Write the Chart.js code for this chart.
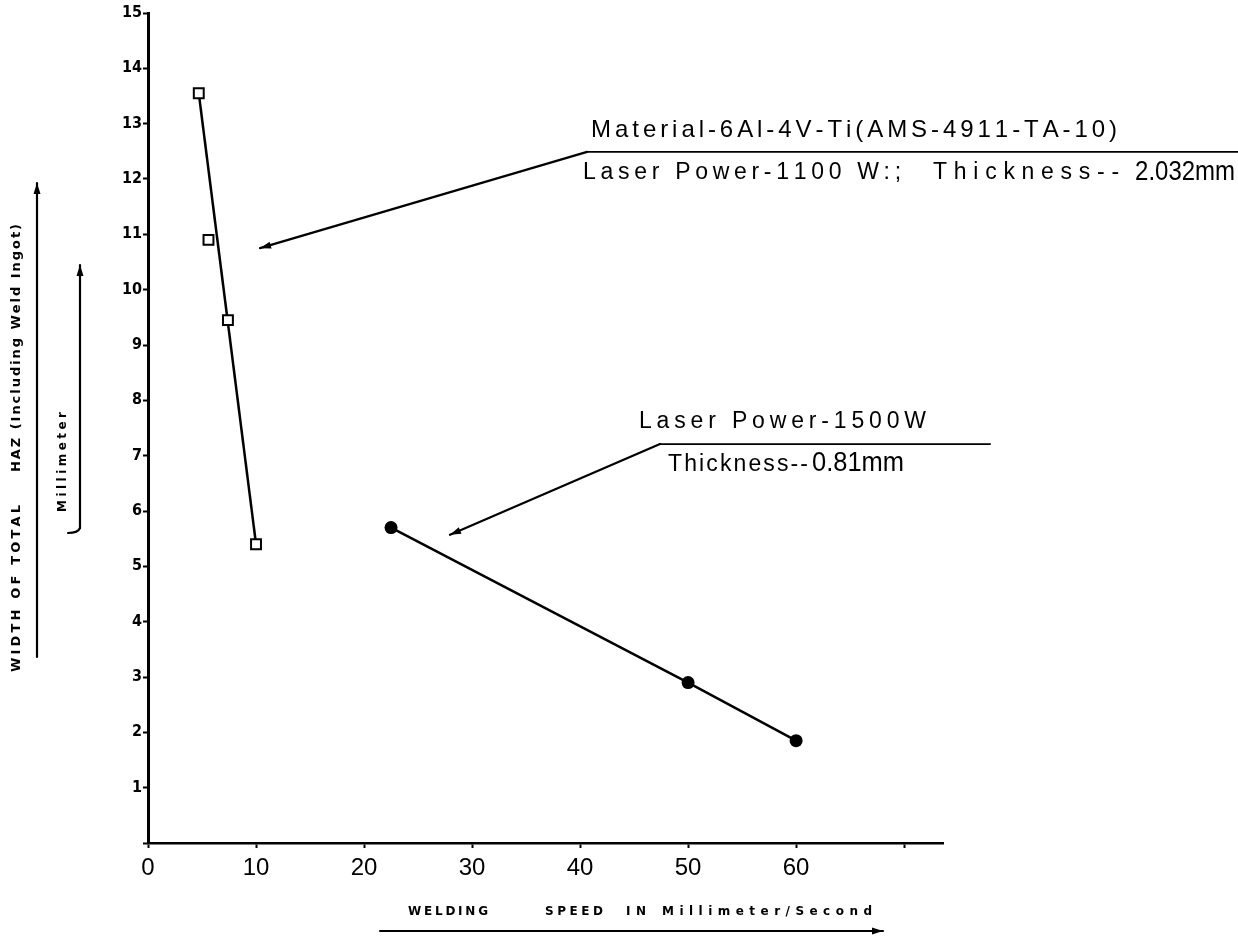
<!DOCTYPE html>
<html>
<head>
<meta charset="utf-8">
<title>Welding speed vs. width of total HAZ</title>
<script src="https://cdn.jsdelivr.net/npm/chart.js@4.4.1/dist/chart.umd.min.js"></script>
<style>
  html, body { margin: 0; padding: 0; background: #fff; }
  #wrap { width: 1238px; height: 936px; position: relative; }
</style>
</head>
<body>
<div id="wrap"><canvas id="chart" width="1238" height="936"></canvas></div>
<script>
// Welding speed (mm/s) against width of total HAZ including weld ingot (mm)
// 6Al-4V-Ti, laser power 1100 W, thickness 2.032 mm
const speed1100W = [4.7, 5.6, 7.4, 10.0];
const width1100W = [13.55, 10.9, 9.45, 5.4];
// laser power 1500 W, thickness 0.81 mm
const speed1500W = [22.5, 50.0, 60.0];
const width1500W = [5.7, 2.9, 1.85];

const xTickLabels = ['0', '10', '20', '30', '40', '50', '60', ''];
const yTickLabels = ['', '1', '2', '3', '4', '5', '6', '7', '8', '9', '10', '11', '12', '13', '14', '15'];

const toPoints = (xs, ys) => xs.map((v, i) => ({ x: v, y: ys[i] }));
const points1100 = toPoints(speed1100W, width1100W);
const points1500 = toPoints(speed1500W, width1500W);
// straight line drawn through the first and last 1100 W measurements
const trend1100 = [points1100[0], points1100[points1100.length - 1]];

Chart.defaults.color = '#000';
Chart.defaults.font.family = '"Liberation Sans", Arial, sans-serif';

// draw a string starting at x so that it spans `width`: slack goes between glyphs,
// and an over-long string is squeezed horizontally
function fitText(ctx, str, x, y, width) {
  const chars = [...str];
  const widths = chars.map(c => ctx.measureText(c).width);
  const natural = widths.reduce((a, b) => a + b, 0);
  ctx.save();
  ctx.translate(x, y);
  let gap = 0;
  if (natural > width) {
    ctx.scale(width / natural, 1);
  } else if (chars.length > 1) {
    gap = (width - natural) / (chars.length - 1);
  }
  let cx = 0;
  chars.forEach((c, i) => { ctx.fillText(c, cx, 0); cx += widths[i] + gap; });
  ctx.restore();
}

function arrowLine(ctx, x1, y1, x2, y2, lw) {
  ctx.lineWidth = lw;
  ctx.beginPath(); ctx.moveTo(x1, y1); ctx.lineTo(x2, y2); ctx.stroke();
  const a = Math.atan2(y2 - y1, x2 - x1), head = 11, half = 3.5;
  const bx = x2 - head * Math.cos(a), by = y2 - head * Math.sin(a);
  ctx.beginPath();
  ctx.moveTo(x2, y2);
  ctx.lineTo(bx + half * Math.sin(a), by - half * Math.cos(a));
  ctx.lineTo(bx - half * Math.sin(a), by + half * Math.cos(a));
  ctx.closePath(); ctx.fill();
}

const annotations = {
  id: 'annotations',
  afterDraw(chart) {
    const { ctx, scales: { x, y } } = chart;
    const X = v => x.getPixelForValue(v), Y = v => y.getPixelForValue(v);
    ctx.save();
    ctx.fillStyle = '#000';
    ctx.strokeStyle = '#000';
    ctx.lineCap = 'round';
    ctx.textBaseline = 'middle';

    // --- callout for the 1100 W series ---
    const ax = X(40.65), ay = Y(12.49);
    arrowLine(ctx, ax, ay, X(10.37), Y(10.75), 2.2);
    ctx.lineWidth = 1.8;
    ctx.beginPath(); ctx.moveTo(ax, ay); ctx.lineTo(chart.width, ay); ctx.stroke();
    ctx.font = '24px "Liberation Sans"';
    fitText(ctx, 'Material-6Al-4V-Ti(AMS-4911-TA-10)', ax + 4, ay - 22, 526);
    ctx.font = '23px "Liberation Sans"';
    fitText(ctx, 'Laser Power-1100 W:;', ax - 4, ay + 21, 318);
    fitText(ctx, 'Thickness--', ax + 346, ay + 21, 186);
    ctx.font = '28px "Liberation Sans"';
    fitText(ctx, '2.032mm', ax + 548, ay + 20, 100);

    // --- callout for the 1500 W series ---
    const bx = X(47.4), by = Y(7.21);
    arrowLine(ctx, bx, by, X(27.96), Y(5.57), 2.2);
    ctx.lineWidth = 1.8;
    ctx.beginPath(); ctx.moveTo(bx, by); ctx.lineTo(X(77.96), by); ctx.stroke();
    ctx.font = '23px "Liberation Sans"';
    fitText(ctx, 'Laser Power-1500W', bx - 21, by - 22, 287);
    fitText(ctx, 'Thickness--', bx + 8, by + 21, 140);
    ctx.font = '27px "Liberation Sans"';
    fitText(ctx, '0.81mm', bx + 152, by + 20, 92);

    // --- x-axis title with arrow underneath ---
    ctx.font = 'bold 12px "DejaVu Sans"';
    fitText(ctx, 'WELDING', 408, 912, 80);
    fitText(ctx, 'SPEED', 545, 912, 58);
    fitText(ctx, 'IN', 626, 912, 20);
    fitText(ctx, 'Millimeter/Second', 662, 912, 210);
    arrowLine(ctx, 380, 931, 883, 931, 2.2);

    // --- y-axis title with arrows beside it ---
    ctx.save();
    ctx.rotate(-Math.PI / 2);
    ctx.font = 'bold 13px "DejaVu Sans"';
    fitText(ctx, 'WIDTH OF TOTAL', -672, 17, 167);
    fitText(ctx, 'HAZ (Including Weld Ingot)', -472, 17, 248);
    ctx.font = 'bold 12px "DejaVu Sans"';
    fitText(ctx, 'Millimeter', -512, 63, 100);
    ctx.restore();
    arrowLine(ctx, 37, 657, 37, 183, 2.2);
    arrowLine(ctx, 80, 528, 80, 265, 2.2);
    ctx.lineWidth = 2.2;
    ctx.beginPath(); ctx.moveTo(80, 528); ctx.quadraticCurveTo(78, 533, 68, 533); ctx.stroke();

    ctx.restore();
  }
};

new Chart(document.getElementById('chart'), {
  type: 'scatter',
  data: {
    datasets: [
      {
        label: '1100 W',
        data: points1100,
        showLine: false,
        pointStyle: 'rect',
        pointRadius: 7,
        pointBorderWidth: 2,
        borderColor: '#000',
        backgroundColor: '#fff'
      },
      {
        label: '1100 W line',
        data: trend1100,
        showLine: true,
        pointRadius: 0,
        borderColor: '#000',
        borderWidth: 2.5
      },
      {
        label: '1500 W',
        data: points1500,
        showLine: true,
        pointStyle: 'circle',
        pointRadius: 6.5,
        pointBorderWidth: 0,
        borderColor: '#000',
        backgroundColor: '#000',
        borderWidth: 2.5
      }
    ]
  },
  options: {
    responsive: false,
    animation: false,
    devicePixelRatio: 1,
    layout: { padding: { left: 0, top: 13, right: 295, bottom: 0 } },
    plugins: { legend: { display: false }, tooltip: { enabled: false } },
    scales: {
      x: {
        type: 'linear',
        min: 0,
        max: 73.6,
        afterFit: s => { s.height = 93; },
        ticks: {
          stepSize: 10,
          includeBounds: false,
          padding: 6,
          font: { size: 24, family: '"Liberation Sans", Arial, sans-serif' },
          callback: (v, i) => xTickLabels[i] ?? ''
        },
        grid: { drawOnChartArea: false, drawTicks: true, tickLength: 5, tickWidth: 2, tickColor: '#000' },
        border: { display: true, color: '#000', width: 2.5 }
      },
      y: {
        type: 'linear',
        min: 0,
        max: 15,
        afterFit: s => { s.width = 148; },
        ticks: {
          stepSize: 1,
          padding: 1,
          font: { size: 16, weight: 'bold', family: '"DejaVu Sans Condensed", "DejaVu Sans", sans-serif' },
          callback: (v, i) => yTickLabels[i] ?? ''
        },
        grid: { drawOnChartArea: false, drawTicks: true, tickLength: 5, tickWidth: 2, tickColor: '#000' },
        border: { display: true, color: '#000', width: 3 }
      }
    }
  },
  plugins: [annotations]
});
</script>
</body>
</html>
